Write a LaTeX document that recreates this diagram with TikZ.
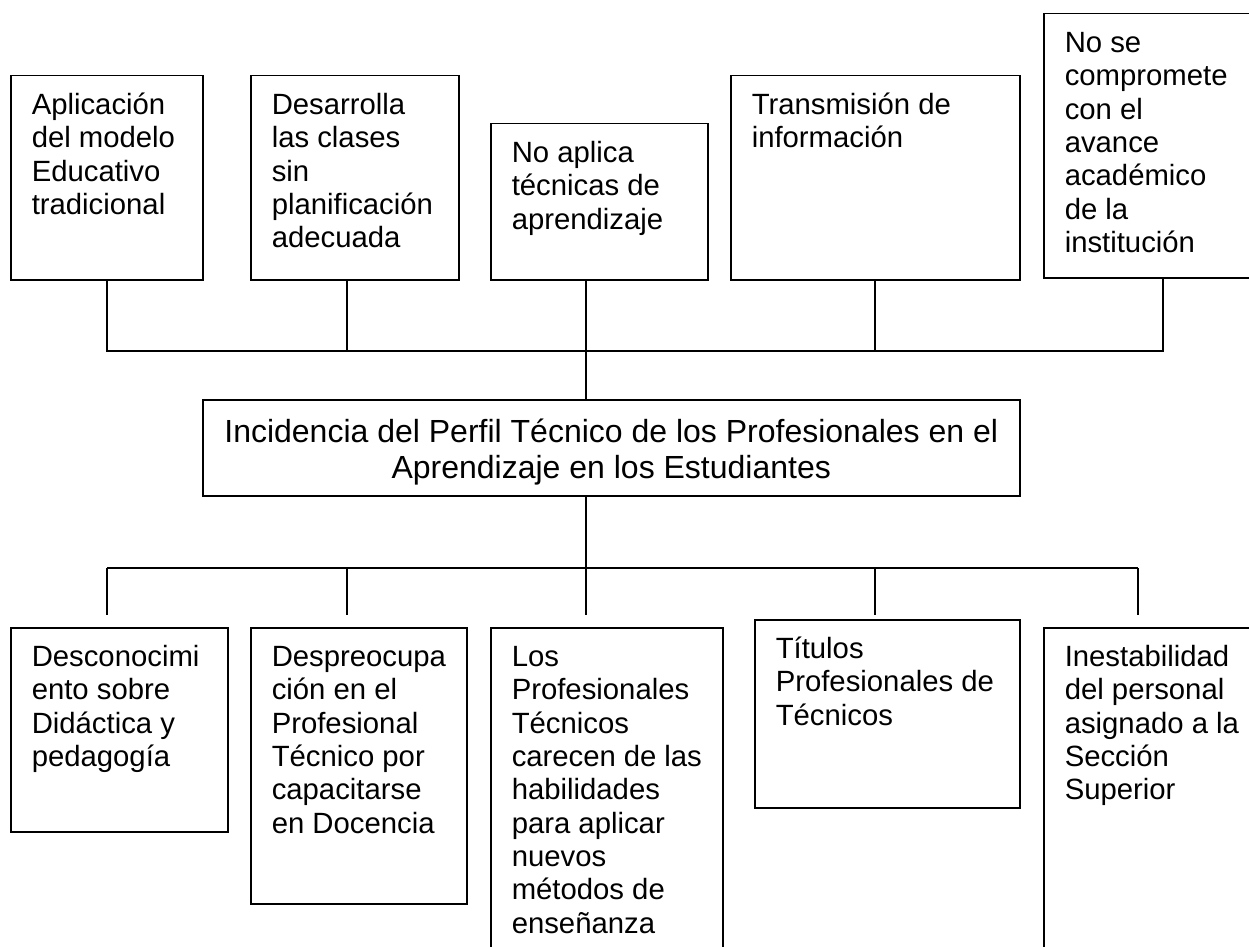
\documentclass[tikz,border=0pt]{standalone}
\usepackage{fontspec}
\setmainfont{Liberation Sans}

\newcommand{\celda}[4][\raggedright]{\parbox[t][#3][t]{#2}{#1\strut #4}}

\begin{document}
\begin{tikzpicture}[x=0.5pt,y=-0.5pt,
  caja/.style={draw, anchor=north west, inner xsep=10.5pt, inner ysep=7.8pt,
    line width=0.75pt, font=\fontsize{14.65pt}{16.65pt}\selectfont},
  central/.style={caja, inner xsep=4.25pt, inner ysep=8.95pt,
    font=\fontsize{16pt}{17.75pt}\selectfont},
  linea/.style={line width=0.75pt}]
  \useasboundingbox (0,0) rectangle (1249,947);
  \clip (0,0) rectangle (1249,947);

  \node[caja] (apl) at (10,75)   {\celda{75pt}{86.4pt}{Aplicación\\del modelo\\Educativo\\tradicional}};
  \node[caja] (des) at (250,75)  {\celda{83pt}{86.4pt}{Desarrolla\\las clases\\sin\\planificación\\adecuada}};
  \node[caja] (noa) at (490,123) {\celda{87.5pt}{62.4pt}{No aplica\\técnicas de\\aprendizaje}};
  \node[caja] (tra) at (730,75)  {\celda{123.5pt}{86.4pt}{Transmisión de\\información}};
  \node[caja] (nosc) at (1043,13) {\celda{88.5pt}{116.4pt}{No se\\compromete\\con el\\avance\\académico\\de la\\institución}};

  \node[central] (inc) at (202,399) {\celda[\centering]{400pt}{30.1pt}{Incidencia del Perfil Técnico de los Profesionales en el\\Aprendizaje en los Estudiantes}};

  \node[caja] (dcon) at (10,627)  {\celda{87.5pt}{86.4pt}{Desconocimi\\ento sobre\\Didáctica y\\pedagogía}};
  \node[caja] (dpre) at (250,627) {\celda{87pt}{122.4pt}{Despreocupa\\ción en el\\Profesional\\Técnico por\\capacitarse\\en Docencia}};
  \node[caja] (prof) at (490,627) {\celda{95pt}{150.9pt}{Los\\Profesionales\\Técnicos\\carecen de las\\habilidades\\para aplicar\\nuevos\\métodos de\\enseñanza}};
  \node[caja] (tit) at (754,619)  {\celda{111.5pt}{78.4pt}{Títulos\\Profesionales de\\Técnicos}};
  \node[caja] (ines) at (1043,627) {\celda{88.5pt}{150.9pt}{Inestabilidad\\del personal\\asignado a la\\Sección\\Superior}};

  \coordinate (t1) at (107,351);
  \coordinate (t2) at (347,351);
  \coordinate (t3) at (586,351);
  \coordinate (t4) at (875,351);
  \coordinate (t5) at (1163,351);
  \coordinate (c1) at (107,568);
  \coordinate (c2) at (347,568);
  \coordinate (c3) at (586,568);
  \coordinate (c4) at (875,568);
  \coordinate (c5) at (1138,568);
  \coordinate (d1) at (107,615);
  \coordinate (d2) at (347,615);
  \coordinate (d3) at (586,615);
  \coordinate (d4) at (875,615);
  \coordinate (d5) at (1138,615);

  \draw[linea] (apl.south -| t1) -- (t1) -- (t5) -- (nosc.south -| t5);
  \draw[linea] (des.south -| t2) -- (t2);
  \draw[linea] (noa.south -| t3) -- (t3);
  \draw[linea] (tra.south -| t4) -- (t4);
  \draw[linea] (t3) -- (inc.north -| t3);
  \draw[linea] (inc.south -| c3) -- (c3);
  \draw[linea] (c1) -- (c5);
  \foreach \i in {1,...,5}
    \draw[linea] (c\i) -- (d\i);
\end{tikzpicture}
\end{document}
